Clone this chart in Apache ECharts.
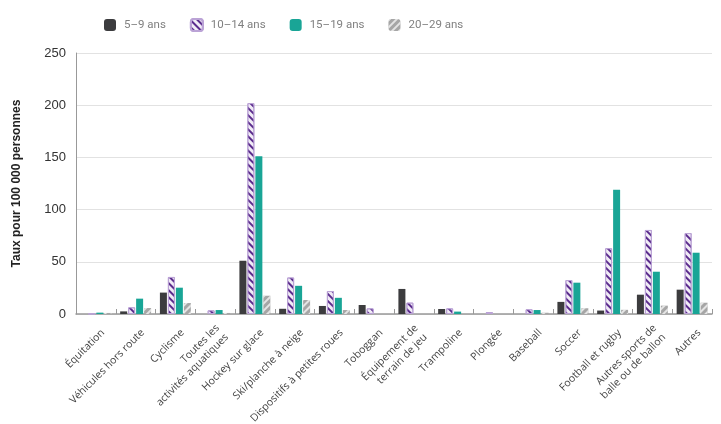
<!DOCTYPE html>
<html>
<head>
<meta charset="utf-8">
<script src="https://cdn.jsdelivr.net/npm/echarts@6/dist/echarts.min.js"></script>
<style>
  html, body { margin: 0; padding: 0; background: #fff; }
  #chart { width: 721px; height: 424px; }
</style>
</head>
<body>
<div id="chart"></div>
<script>
const categories = [
  "Équitation", "Véhicules hors route", "Cyclisme", "Toutes les\nactivités aquatiques",
  "Hockey sur glace", "Ski/planche à neige", "Dispositifs à petites roues", "Toboggan",
  "Équipement de\nterrain de jeu", "Trampoline", "Plongée", "Baseball", "Soccer",
  "Football et rugby", "Autres sports de\nballe ou de ballon", "Autres"
]
const seriesNames = ["5–9 ans", "10–14 ans", "15–19 ans", "20–29 ans"]
const age5to9 = [0, 2.5, 20.5, 0, 51, 5, 7.7, 8.6, 24, 4.8, 0, 0, 11.6, 3.3, 18.5, 23.3]
const age10to14 = [0.3, 6.4, 35.5, 3.5, 202, 35, 22, 5.4, 10.9, 5.4, 1.9, 4.5, 32.5, 63, 80.5, 77.5]
const age15to19 = [1.3, 14.7, 25.2, 3.8, 151, 27, 15.5, 0, 0, 2.3, 0, 3.8, 30, 119, 40.5, 58.7]
const age20to29 = [1, 5.7, 10.5, 1, 17.5, 13.4, 3.8, 0, 0, 0, 0, 1.2, 5.5, 4, 8, 10.8]
const yTicks = [0, 50, 100, 150, 200, 250]

let myChart = echarts.init(document.getElementById("chart"))

function bar(name, data, itemStyle) {
  return {
    name: name,
    type: "bar",
    data: data,
    barWidth: 7,
    barGap: "14%",
    itemStyle: itemStyle
  }
}

// les étiquettes de l'axe x sont décalées vers le bas-droite : une ligne vide en tête
function xLabel(value) {
  return "{s| }\n" + value.split("\n").map(function (l) { return "{t|" + l + "}" }).join("\n")
}

myChart.setOption({
  animation: false,
  legend: {
    top: 13,
    left: 99,
    itemWidth: 12,
    itemHeight: 12,
    itemGap: 24,
    textStyle: {
      color: "#808080",
      fontFamily: "Roboto",
      fontSize: 11.5,
      padding: [0, 0, 0, 3]
    },
    data: seriesNames
  },
  grid: {
    left: 76,
    right: 9,
    top: 53,
    bottom: 110,
    outerBoundsMode: "none"
  },
  xAxis: {
    type: "category",
    data: categories,
    axisLine: {
      lineStyle: { color: "#999", width: 1.5 }
    },
    axisTick: {
      show: true,
      inside: true,
      length: 5,
      lineStyle: { color: "#999" }
    },
    axisLabel: {
      rotate: 45,
      interval: 0,
      margin: 10,
      formatter: xLabel,
      rich: {
        s: { fontSize: 10, lineHeight: 20, color: "rgba(0,0,0,0)" },
        t: {
          color: "#444",
          fontFamily: "Open Sans",
          fontSize: 10.5,
          lineHeight: 13
        }
      }
    }
  },
  yAxis: {
    type: "value",
    min: yTicks[0],
    max: yTicks[yTicks.length - 1],
    interval: 50,
    name: "Taux pour 100 000 personnes",
    nameLocation: "middle",
    nameGap: 53,
    nameTextStyle: {
      color: "#222",
      fontFamily: "Liberation Sans",
      fontWeight: "bold",
      fontSize: 12
    },
    axisLine: {
      show: true,
      lineStyle: { color: "#999" }
    },
    axisTick: { show: false },
    axisLabel: {
      margin: 10,
      color: "#333",
      fontFamily: "Liberation Sans",
      fontSize: 13
    },
    splitLine: {
      lineStyle: { color: "#e2e2e2" }
    }
  },
  series: [
    bar(seriesNames[0], age5to9, { color: "#3c3c3e" }),
    bar(seriesNames[1], age10to14, {
      color: "#f1ecf6",
      borderColor: "#bba3d6",
      borderWidth: 1,
      decal: {
        symbol: "rect",
        color: "#5b2c8d",
        dashArrayX: [1, 0],
        dashArrayY: [1.6, 2.2],
        rotation: Math.PI / 4
      }
    }),
    bar(seriesNames[2], age15to19, { color: "#19a596" }),
    bar(seriesNames[3], age20to29, {
      color: "#a6a6a6",
      decal: {
        symbol: "rect",
        color: "rgba(255,255,255,0.7)",
        dashArrayX: [1, 0],
        dashArrayY: [2, 3],
        rotation: -Math.PI / 4
      }
    })
  ]
})
</script>
</body>
</html>
